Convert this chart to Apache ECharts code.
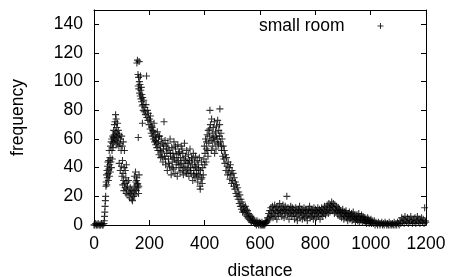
<!DOCTYPE html>
<html>
<head>
<meta charset="utf-8">
<script src="https://cdn.jsdelivr.net/npm/echarts@6/dist/echarts.min.js"></script>
<style>html,body{margin:0;padding:0;background:#fff}#c{width:449px;height:277px}</style>
</head>
<body>
<div id="c"></div>
<script>
const seriesName = 'small room';
const xTicks = [0, 200, 400, 600, 800, 1000, 1200];
const yTicks = [0, 20, 40, 60, 80, 100, 120, 140];
const distance = [
0,3,6,9,12,15,18,21,24,27,30,33,36,
37,38,39,40,41,42,43,44,45,46,47,48,
49,50,51,52,53,54,55,56,57,58,59,60,61,62,63,64,65,66,
67,68,69,70,71,72,73,74,75,76,77,78,79,80,81,82,
83,84,85,86,87,88,90,92,94,96,98,100,102,106,110,
91,95,99,101,103,105,107,109,111,113,115,117,119,
104,108,112,116,118,121,123,125,127,129,131,133,135,137,139,141,
143,145,147,149,151,153,155,157,159,161,163,146,150,154,158,162,160,
155,157,159,160,161,162,163,164,165,166,167,168,169,170,171,172,173,
174,175,176,177,178,180,182,184,186,188,190,191,193,195,197,199,
201,203,205,207,209,211,213,215,217,219,221,223,225,227,229,231,233,235,237,239,241,243,245,247,249,
251,253,255,257,259,261,263,265,267,269,271,273,275,277,279,281,283,285,287,289,291,293,295,297,299,
301,303,305,307,309,311,313,315,317,319,321,323,325,327,329,331,333,335,337,339,341,343,345,347,
349,351,353,355,357,359,361,363,365,367,369,371,373,375,377,379,381,383,385,387,389,391,393,395,
204,210,216,222,228,234,240,246,252,258,264,270,276,282,288,294,
300,306,312,318,324,330,336,342,348,354,360,366,372,378,384,390,
397,399,401,403,405,407,409,411,413,415,417,419,421,423,425,427,429,431,
433,435,437,439,441,443,445,447,449,451,453,455,457,459,461,463,465,
400,406,412,418,424,430,436,442,448,454,460,
467,469,471,473,475,477,479,481,483,485,487,489,491,493,495,497,499,501,503,505,507,509,511,513,515,
517,519,521,523,525,527,529,531,533,535,537,539,541,543,545,547,549,551,553,555,557,559,561,563,565,
567,569,571,573,575,577,579,581,583,585,587,589,591,593,595,597,599,
601,603,605,607,609,611,613,615,617,619,621,623,625,627,629,631,633,635,637,639,641,643,645,647,649,651,653,655,657,659,
661,663,665,667,669,671,673,675,677,679,681,683,685,687,689,691,693,695,697,699,701,703,705,707,709,
711,713,715,717,719,721,723,725,727,729,731,733,735,737,739,741,743,745,747,749,751,753,755,757,759,
761,763,765,767,769,771,773,775,777,779,781,783,785,787,789,791,793,795,797,799,801,803,805,807,809,
811,813,815,817,819,821,823,825,827,829,831,833,835,837,839,841,843,845,847,849,851,853,855,857,859,
861,863,865,867,869,871,873,875,877,879,881,883,885,887,889,891,893,895,897,899,901,903,905,907,909,
911,913,915,917,919,921,923,925,927,929,931,933,935,937,939,941,943,945,947,949,951,953,955,957,959,
961,963,965,967,969,971,973,975,977,979,981,983,985,987,989,991,993,995,997,999,1001,1003,1005,1007,
1010,1013,1016,1019,1022,1025,1028,1031,1034,1037,1040,1043,1046,1049,1052,1055,1058,1061,1064,1067,1070,1073,1076,1079,1082,1085,1088,1091,1094,1097,1100,1103,1106,1109,
1112,1115,1118,1121,1124,1127,1130,1133,1136,1139,1142,1145,1148,1151,1154,1157,1160,1163,1166,1169,1172,1175,1178,1181,1184,1187,1190,1193,1195,1197,1199
];
const frequency = [
0,0,1,0,0,1,0,0,0,1,0,0,1,
3,6,9,13,17,20,27,30,35,28,38,33,
41,44,36,31,45,39,52,34,42,47,37,55,44,58,40,60,52,46,
57,62,54,61,66,58,63,70,60,72,65,77,59,74,62,68,
56,64,71,58,61,66,55,63,57,60,52,62,55,58,52,
43,38,41,34,45,36,31,40,29,38,33,42,30,
28,24,26,22,25,27,21,31,23,19,26,22,24,18,17,23,
20,27,21,25,30,24,33,28,26,22,35,34,37,31,29,27,61,
113,115,105,97,103,95,114,100,92,98,90,104,94,88,96,86,91,
83,71,89,84,80,87,79,82,77,84,104,75,80,73,78,70,
74,67,72,64,69,62,66,60,71,58,63,56,61,54,65,52,58,49,62,55,47,60,51,57,44,
53,72,48,59,42,55,50,38,57,46,52,41,60,48,35,54,44,50,39,58,46,36,53,42,49,
34,56,45,40,51,37,47,55,43,38,50,35,46,57,41,48,37,52,44,39,49,34,45,53,
40,36,47,42,31,50,38,44,33,48,40,36,45,30,42,35,47,27,38,32,44,29,40,35,
76,68,65,59,57,62,52,48,56,46,53,43,50,40,47,55,
44,50,42,53,40,45,36,43,38,46,35,41,34,39,25,33,
46,55,50,60,44,58,63,52,66,57,62,80,70,59,74,64,55,68,
61,72,58,65,53,69,60,73,56,66,62,81,58,64,52,60,48,
42,53,48,67,52,60,50,62,57,70,55,
55,46,52,43,49,38,47,41,35,44,37,40,32,42,35,29,38,31,36,27,33,25,30,22,28,
20,26,18,23,15,21,13,18,11,16,9,14,10,12,9,13,7,11,6,10,5,8,4,7,3,
6,2,5,3,4,2,3,1,1,2,0,3,1,2,0,1,2,
0,1,0,2,0,1,0,1,0,2,1,3,2,5,3,8,4,10,6,12,7,9,13,5,11,8,14,6,10,12,
4,9,13,7,11,15,8,10,12,6,9,14,11,5,10,13,8,11,20,7,12,9,4,11,8,
13,6,10,12,7,9,11,4,8,12,6,10,3,9,11,7,13,5,9,11,8,4,10,7,12,
5,9,11,6,10,3,8,11,7,13,5,9,11,6,10,8,4,12,7,9,11,5,10,8,12,
6,9,11,4,10,7,12,9,6,11,8,13,10,7,12,9,14,11,8,15,12,9,14,11,16,
13,10,15,12,8,14,11,9,13,10,7,12,9,11,6,10,8,5,9,11,7,4,9,6,8,
10,5,7,3,8,6,9,4,7,5,8,3,6,9,4,7,5,2,6,4,7,3,5,8,2,
6,4,3,7,5,2,6,4,3,5,2,4,1,3,5,2,4,1,3,2,4,1,3,2,
1,3,0,2,1,0,2,1,0,1,2,0,1,0,2,1,0,1,0,2,0,1,0,1,0,2,0,1,0,2,1,0,3,1,
5,2,4,1,6,3,2,5,1,4,2,6,3,1,4,2,5,1,3,6,2,4,1,3,5,2,4,1,12,3,2
];

const FONT = 'Liberation Sans';
const FS = 17.5;
const plus = 'path://M0,5L10,5M5,0L5,10';
const chart = echarts.init(document.getElementById('c'), null, {renderer: 'canvas'});
const axisCommon = {
  axisLine: {show: true, onZero: false, lineStyle: {color: '#000', width: 1}},
  axisTick: {show: true, inside: true, length: 5, lineStyle: {color: '#000', width: 1}},
  splitLine: {show: false}
};
chart.setOption({
  animation: false,
  backgroundColor: '#fff',
  grid: {left: 94, right: 23, top: 10, bottom: 52, containLabel: false, outerBoundsMode: 'none'},
  legend: {
    data: [{name: seriesName, icon: plus, itemStyle: {color: 'rgba(0,0,0,0)', borderColor: '#000', borderWidth: 1}}],
    right: 60, top: 12,
    align: 'right',
    itemWidth: 6, itemHeight: 6,
    textStyle: {fontFamily: FONT, fontSize: FS, color: '#000', padding: [0, 28, 0, 0]}
  },
  xAxis: [
    Object.assign({
      type: 'value', min: xTicks[0], max: xTicks[xTicks.length - 1], interval: xTicks[1] - xTicks[0],
      position: 'bottom',
      name: 'distance', nameLocation: 'middle', nameGap: 37,
      nameTextStyle: {fontFamily: FONT, fontSize: FS, color: '#000'},
      axisLabel: {fontFamily: FONT, fontSize: FS, color: '#000', margin: 10, formatter: v => String(v)}
    }, axisCommon),
    Object.assign({
      type: 'value', min: xTicks[0], max: xTicks[xTicks.length - 1], interval: xTicks[1] - xTicks[0],
      position: 'top', axisLabel: {show: false}
    }, axisCommon)
  ],
  yAxis: [
    Object.assign({
      type: 'value', min: yTicks[0], max: 150, interval: yTicks[1] - yTicks[0],
      position: 'left',
      name: 'frequency', nameLocation: 'middle', nameGap: 67, nameRotate: 90,
      nameTextStyle: {fontFamily: FONT, fontSize: FS, color: '#000'},
      axisLabel: {fontFamily: FONT, fontSize: FS, color: '#000', margin: 11, showMaxLabel: false,
        formatter: v => (yTicks.indexOf(v) >= 0 ? String(v) : '')}
    }, axisCommon),
    Object.assign({
      type: 'value', min: yTicks[0], max: 150, interval: yTicks[1] - yTicks[0],
      position: 'right', axisLabel: {show: false}
    }, axisCommon)
  ],
  series: [{
    name: seriesName,
    type: 'scatter',
    xAxisIndex: 0, yAxisIndex: 0,
    symbol: plus,
    symbolSize: 7,
    itemStyle: {color: 'rgba(0,0,0,0)', borderColor: '#000', borderWidth: 1.1},
    data: distance.map((d, i) => [d, frequency[i]])
  }]
});
</script>
</body>
</html>
